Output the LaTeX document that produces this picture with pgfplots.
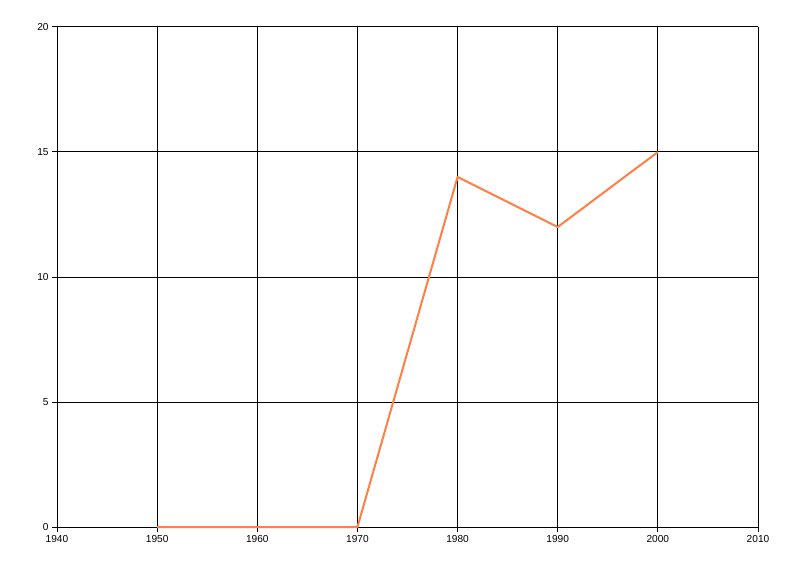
\documentclass[border=0pt]{standalone}
\usepackage{pgfplots}
\pgfplotsset{compat=1.18}
\usepackage{fontspec}
\setmainfont{Liberation Sans}
\definecolor{coral}{HTML}{FF7F45}
\begin{document}
\begin{tikzpicture}[x=0.75pt,y=0.75pt]
\begin{axis}[
  at={(0,0)}, anchor=origin,
  scale only axis,
  width=525.75pt, height=375pt,
  xmin=1940, xmax=2010, ymin=0, ymax=20,
  xtick={1940,1950,...,2010}, ytick={0,5,...,20},
  axis line style={draw=none},
  grid=major, major grid style={black, line width=0.75pt},
  tick style={black, line width=0.75pt},
  tick align=outside, major tick length=3.75pt,
  xtick pos=bottom, ytick pos=left,
  /pgf/number format/assume math mode=true,
  /pgf/number format/1000 sep={},
  tick label style={font=\fontsize{7.6}{9}\selectfont},
  xticklabel style={yshift=1pt},
  yticklabel style={xshift=1pt},
  clip=false,
]
\draw[black, line width=0.75pt] (rel axis cs:0,0) -- (rel axis cs:1,0);
\draw[black, line width=0.75pt] (rel axis cs:0,0) -- (rel axis cs:0,1);
\addplot[coral, line width=1.5pt, mark=none] coordinates {
  (1950,0) (1960,0) (1970,0) (1980,14) (1990,12) (2000,15)
};
\end{axis}
\path[use as bounding box] (-57,-49) rectangle (743,527);
\end{tikzpicture}
\end{document}
